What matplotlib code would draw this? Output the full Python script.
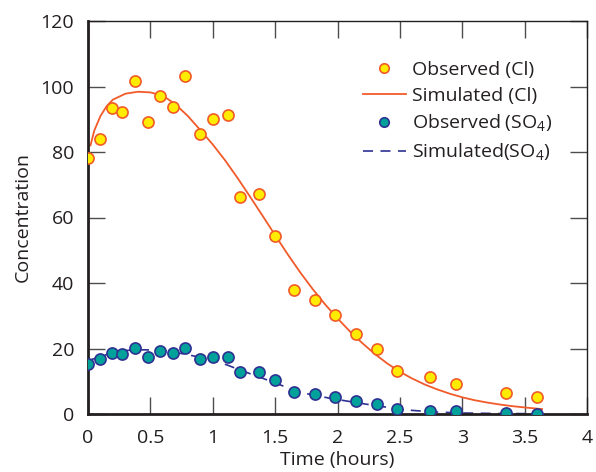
import matplotlib
matplotlib.use("Agg")
import matplotlib.pyplot as plt

plt.rcParams['font.family'] = ['Open Sans', 'DejaVu Sans']

# Observed data
obs_time = [0.0, 0.10, 0.19, 0.275, 0.38, 0.48, 0.58, 0.68, 0.78, 0.90, 1.00, 1.12,
            1.22, 1.37, 1.50, 1.65, 1.82, 1.98, 2.15, 2.32, 2.48, 2.74, 2.95, 3.35, 3.60]
obs_cl = [78.3, 84.1, 93.3, 92.3, 101.7, 89.1, 97.1, 93.8, 103.2, 85.4, 90.1, 91.3,
          66.4, 67.1, 54.4, 37.9, 34.8, 30.2, 24.3, 19.8, 13.0, 11.4, 9.3, 6.4, 5.2]
obs_so4 = [15.3, 16.7, 18.6, 18.4, 20.2, 17.5, 19.3, 18.6, 20.1, 16.7, 17.5, 17.5,
           12.7, 12.8, 10.4, 6.7, 6.0, 5.2, 3.9, 3.1, 1.5, 1.0, 0.8, 0.2, 0.0]

# Simulated curves (sampled)
sim_cl_time = [0.0, 0.02, 0.05, 0.10, 0.15, 0.20, 0.30, 0.40, 0.50, 0.60, 0.70, 0.80,
               0.90, 1.00, 1.10, 1.20, 1.30, 1.40, 1.50, 1.60, 1.70, 1.80, 1.90, 2.00,
               2.10, 2.20, 2.30, 2.40, 2.50, 2.60, 2.70, 2.80, 2.90, 3.00, 3.10, 3.20,
               3.30, 3.40, 3.50, 3.64]
sim_cl = [81.8, 82.0, 86.5, 91.0, 94.0, 96.0, 97.8, 98.4, 98.2, 97.2, 94.6, 91.0,
          86.7, 82.3, 77.4, 72.0, 66.3, 60.5, 54.6, 48.8, 43.3, 38.2, 33.5, 29.2,
          25.2, 21.6, 18.3, 15.4, 12.9, 10.8, 9.0, 7.5, 6.2, 5.1, 4.2, 3.5,
          2.9, 2.4, 2.0, 1.5]

sim_so4_time = [0.0, 0.10, 0.20, 0.30, 0.45, 0.57, 0.69, 0.85, 1.00, 1.12, 1.22, 1.38,
                1.54, 1.70, 1.94, 2.10, 2.23, 2.53, 2.74, 3.00, 3.30, 3.62]
sim_so4 = [16.3, 17.5, 18.8, 19.4, 19.6, 19.5, 18.9, 17.7, 16.5, 14.9, 13.4, 11.2,
           8.9, 6.6, 4.8, 3.8, 3.0, 1.3, 0.7, 0.3, 0.15, 0.1]

xticks = [0, 0.5, 1, 1.5, 2, 2.5, 3, 3.5, 4]
xticklabels = ['0', '0.5', '1', '1.5', '2', '2.5', '3', '3.5', '4']
yticks = [0, 20, 40, 60, 80, 100, 120]

fig = plt.figure(figsize=(5.96, 4.72), dpi=100)
ax = fig.add_axes([88/596, 1 - 414/472, (587-88)/596, (414-21)/472])

ORANGE = '#f15a29'
YELLOW = '#ffec00'
TEAL = '#00a19a'
NAVY = '#2e3192'
DARK = '#231f20'

ax.plot(sim_cl_time, sim_cl, color=ORANGE, lw=1.3, zorder=2, label='Simulated (Cl)')
ax.plot(sim_so4_time, sim_so4, color=NAVY, lw=1.2, ls=(0, (6, 4.5)), zorder=2,
        label='Simulated(SO$_\\mathregular{4}$)')
ax.plot(obs_time, obs_cl, ls='none', marker='o', ms=8, mfc=YELLOW, mec=ORANGE, mew=1.2,
        zorder=3, label='Observed (Cl)')
ax.plot(obs_time, obs_so4, ls='none', marker='o', ms=8, mfc=TEAL, mec=NAVY, mew=1.2,
        zorder=3, label='Observed (SO$_\\mathregular{4}$)')

ax.set_xlim(0, 4)
ax.set_ylim(0, 120)
ax.set_xticks(xticks)
ax.set_xticklabels(xticklabels)
ax.set_yticks(yticks)

ax.tick_params(axis='both', which='major', direction='in', length=12, width=1.0,
               color='#4d4d4d', labelsize=14, labelcolor=DARK, pad=11,
               top=True, right=True)
ax.tick_params(axis='y', pad=10)

for side in ['left', 'bottom']:
    ax.spines[side].set_linewidth(2.0)
    ax.spines[side].set_color(DARK)
for side in ['top', 'right']:
    ax.spines[side].set_linewidth(1.0)
    ax.spines[side].set_color(DARK)

ax.set_xlabel('Time (hours)', fontsize=14, color=DARK, labelpad=3)
ax.set_ylabel('Concentration', fontsize=14, color=DARK, labelpad=6)

handles, labels = ax.get_legend_handles_labels()
order = [2, 0, 3, 1]
leg = ax.legend([handles[i] for i in order], [labels[i] for i in order],
                loc='upper left', bbox_to_anchor=(0.535, 0.918), frameon=False,
                fontsize=14, handlelength=2.2, handletextpad=0.35,
                labelspacing=0.4, markerscale=0.85, borderaxespad=0)
for t in leg.get_texts():
    t.set_color(DARK)

fig.savefig('out.png', dpi=100)
